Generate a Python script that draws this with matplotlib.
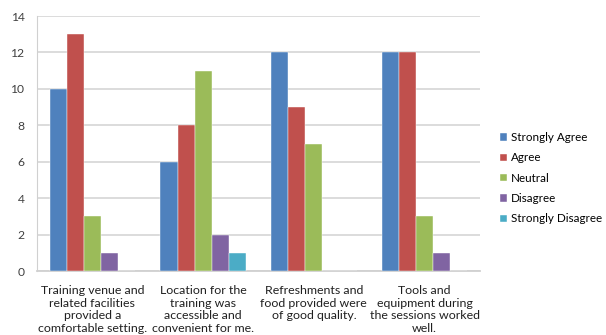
import matplotlib.pyplot as plt
import numpy as np

plt.rcParams['font.family'] = ['Lato', 'DejaVu Sans']

categories = ["Training venue and\nrelated facilities\nprovided a\ncomfortable setting.",
              "Location for the\ntraining was\naccessible and\nconvenient for me.",
              "Refreshments and\nfood provided were\nof good quality.",
              "Tools and\nequipment during\nthe sessions worked\nwell."]
series = ["Strongly Agree", "Agree", "Neutral", "Disagree", "Strongly Disagree"]
strongly_agree = [10, 6, 12, 12]
agree = [13, 8, 9, 12]
neutral = [3, 11, 7, 3]
disagree = [1, 2, 0, 1]
strongly_disagree = [0, 1, 0, 0]
values = [strongly_agree, agree, neutral, disagree, strongly_disagree]
colors = ["#4F81BD", "#C0504D", "#9BBB59", "#8064A2", "#4BACC6"]

fig = plt.figure(figsize=(6.06, 3.35), dpi=100)
ax = fig.add_axes([37 / 606, 1 - 271 / 335, 443 / 606, 255 / 335])

x = np.arange(len(categories))
w = 0.154
for i, (name, vals, c) in enumerate(zip(series, values, colors)):
    ax.bar(x + (i - 2) * w, vals, width=w, color=c, label=name,
           edgecolor='white', linewidth=0.3, zorder=3)

ax.set_xlim(-0.5, len(categories) - 0.5)
ax.set_ylim(0, 14)
ax.set_yticks(range(0, 15, 2))
ax.grid(axis='y', color='#D9D9D9', linewidth=1.3, zorder=0)
for side in ['top', 'right']:
    ax.spines[side].set_visible(False)
ax.spines['left'].set_color('#D0D0D0')
ax.spines['bottom'].set_color('#D0D0D0')
ax.spines['bottom'].set_linewidth(1.3)
ax.tick_params(axis='y', length=0, pad=9, labelsize=8.7, labelcolor='#404040')
ax.tick_params(axis='x', length=0, pad=10, labelsize=8.9, labelcolor='#202020')
ax.set_xticks(x)
ax.set_xticklabels(categories, linespacing=1.2)

ax.legend(loc='upper left', bbox_to_anchor=(500 / 606, 1 - 132 / 335),
          bbox_transform=fig.transFigure, frameon=False, fontsize=8.4,
          handlelength=0.6, handleheight=0.6, handletextpad=0.35,
          labelspacing=0.8, borderaxespad=0, borderpad=0)

fig.savefig("out.png", dpi=100)
